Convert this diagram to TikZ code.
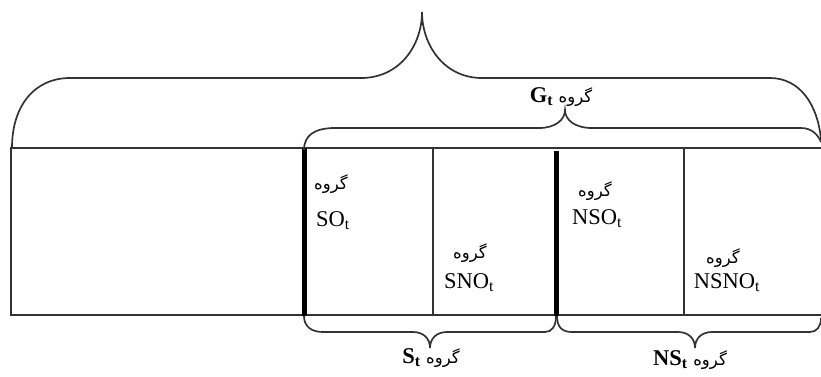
\documentclass[tikz,border=0pt]{standalone}
\usepackage{fontspec}
\setmainfont{Liberation Serif}
\newfontfamily\arabicfont[Script=Arabic]{DejaVu Sans}
\TeXXeTstate=1
\newcommand{\grp}{{\arabicfont\fontsize{16.5}{18}\selectfont\beginR گروه\endR}}
\begin{document}
\begin{tikzpicture}[x=1pt,y=-1pt,
  thinline/.style={line width=1.8pt,draw=black!80},
  thickline/.style={line width=5pt,draw=black},
  bracel/.style={line width=1.7pt,draw=black!80},
  lbl/.style={inner sep=0pt,font=\fontsize{22.5}{24}\selectfont},
  grplbl/.style={inner sep=0pt,align=center}]
\useasboundingbox (0,0) rectangle (821,376);
% rectangle (open on the right edge of the picture)
\draw[thinline] (821,148) -- (11,148) -- (11,315) -- (821,315);
\draw[thinline] (433,148) -- (433,315);
\draw[thinline] (684,148) -- (684,315);
\draw[thickline] (304,148) -- (304,316);
\draw[thickline] (556,151) -- (556,316);
% big top brace
\coordinate (btip) at (422,12);
\draw[bracel] (12,148) .. controls (12,105) and (35,78) .. (70,78) -- (361,78)
  .. controls (400,78) and (422,45) .. (btip)
  .. controls (422,45) and (444,78) .. (482,78) -- (770,78)
  .. controls (800,78) and (818,105) .. (821,140);
% G_t brace
\coordinate (gtip) at (565,110);
\draw[bracel] (304,150) .. controls (304,135) and (315,128) .. (335,128) -- (539,128)
  .. controls (555,128) and (565,120) .. (gtip)
  .. controls (565,120) and (575,128) .. (592,128) -- (801,128)
  .. controls (812,128) and (818,135) .. (821,142);
% S_t brace
\coordinate (stip) at (430,348);
\draw[bracel] (304,316) .. controls (304,327) and (312,332) .. (323,332) -- (413,332)
  .. controls (423,332) and (430,338) .. (stip)
  .. controls (430,338) and (437,332) .. (447,332) -- (545,332)
  .. controls (552,332) and (556,326) .. (556,316);
% NS_t brace
\coordinate (nstip) at (695,348);
\draw[bracel] (557,316) .. controls (557,327) and (562,332) .. (572,332) -- (678,332)
  .. controls (688,332) and (695,338) .. (nstip)
  .. controls (695,338) and (702,332) .. (712,332) -- (810,332)
  .. controls (817,332) and (821,326) .. (821,318);
% labels
\node[lbl] (gt) at (561,97) {\textbf{G\textsubscript{t}} \grp};
\node[lbl] (st) at (431,358) {\textbf{S\textsubscript{t}} \grp};
\node[lbl] (nst) at (690,360) {\textbf{NS\textsubscript{t}} \grp};
\node[inner sep=0pt] (g1) at (331,184) {\grp};
\node[lbl,anchor=west] (so) at (316,221) {SO\textsubscript{t}};
\node[inner sep=0pt] (g2) at (470,253) {\grp};
\node[lbl] (sno) at (469,283) {SNO\textsubscript{t}};
\node[inner sep=0pt] (g3) at (595,191) {\grp};
\node[lbl] (nso) at (597,219) {NSO\textsubscript{t}};
\node[inner sep=0pt] (g4) at (723,258) {\grp};
\node[lbl] (nsno) at (727,283) {NSNO\textsubscript{t}};
\end{tikzpicture}
\end{document}
